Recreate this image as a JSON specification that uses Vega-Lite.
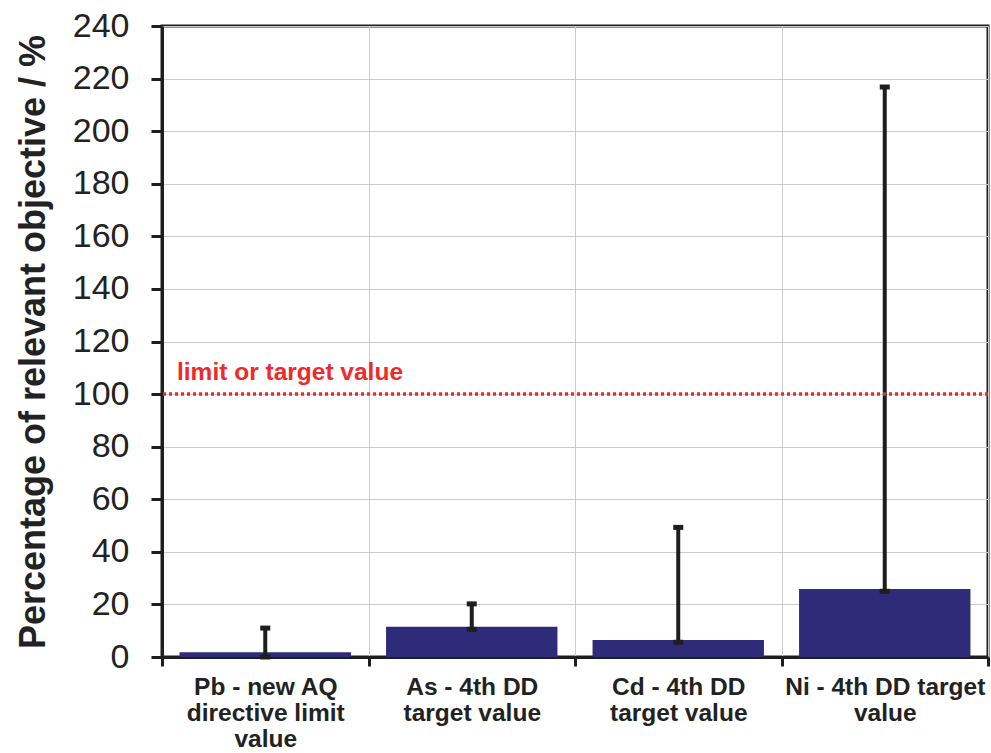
{
  "$schema": "https://vega.github.io/schema/vega-lite/v6.json",
  "width": 826,
  "height": 631,
  "autosize": {"type": "none"},
  "padding": {"left": 162, "top": 26, "right": 3, "bottom": 96},
  "background": "white",
  "config": {
    "font": "Liberation Sans",
    "view": {"stroke": "#1e1e1e", "strokeWidth": 3}
  },
  "data": {
    "values": [
      {"metal": "Pb - new AQ directive limit value", "value": 1.8, "low": 0, "high": 11},
      {"metal": "As - 4th DD target value", "value": 11.5, "low": 10.5, "high": 20.2},
      {"metal": "Cd - 4th DD target value", "value": 6.5, "low": 5.6, "high": 49.3},
      {"metal": "Ni - 4th DD target value", "value": 25.9, "low": 25, "high": 216.8}
    ]
  },
  "encoding": {
    "x": {
      "field": "metal",
      "type": "nominal",
      "sort": null,
      "scale": {"paddingInner": 0, "paddingOuter": 0},
      "axis": {
        "title": null,
        "labelAngle": 0,
        "tickBand": "extent",
        "grid": true,
        "gridColor": "#cccccc",
        "gridWidth": 1,
        "domainColor": "#1e1e1e",
        "domainWidth": 3,
        "tickColor": "#1e1e1e",
        "tickWidth": 3,
        "tickSize": 9,
        "labelFont": "Liberation Sans",
        "labelFontSize": 24.5,
        "labelFontWeight": "bold",
        "labelColor": "#222222",
        "labelPadding": 9,
        "labelLimit": 0,
        "labelLineHeight": 26,
        "labelBaseline": "top",
        "labelExpr": "datum.label == 'Pb - new AQ directive limit value' ? ['Pb - new AQ', 'directive limit', 'value'] : datum.label == 'Ni - 4th DD target value' ? ['Ni - 4th DD target', 'value'] : datum.label == 'As - 4th DD target value' ? ['As - 4th DD', 'target value'] : datum.label == 'Cd - 4th DD target value' ? ['Cd - 4th DD', 'target value'] : ''"
      }
    }
  },
  "layer": [
    {
      "mark": {"type": "bar", "color": "#2E2B78", "width": {"band": 0.83}},
      "encoding": {
        "y": {
          "field": "value",
          "type": "quantitative",
          "scale": {"domain": [0, 240], "nice": false},
          "axis": {
            "title": "Percentage of relevant objective / %",
            "titleFont": "Liberation Sans",
            "titleFontSize": 36,
            "titleFontWeight": "bold",
            "titleColor": "#222222",
            "titlePadding": 20,
            "values": [0, 20, 40, 60, 80, 100, 120, 140, 160, 180, 200, 220, 240],
            "grid": true,
            "gridColor": "#cccccc",
            "gridWidth": 1,
            "domainColor": "#1e1e1e",
            "domainWidth": 3,
            "tickColor": "#1e1e1e",
            "tickWidth": 3,
            "tickSize": 11,
            "labelFont": "Liberation Sans",
            "labelFontSize": 34,
            "labelColor": "#222222",
            "labelPadding": 22
          }
        }
      }
    },
    {
      "mark": {"type": "rule", "color": "#1e1e1e", "strokeWidth": 4},
      "encoding": {
        "y": {"field": "low", "type": "quantitative"},
        "y2": {"field": "high"}
      }
    },
    {
      "mark": {"type": "tick", "color": "#1e1e1e", "opacity": 1, "size": 10, "thickness": 5},
      "encoding": {"y": {"field": "low", "type": "quantitative"}}
    },
    {
      "mark": {"type": "tick", "color": "#1e1e1e", "opacity": 1, "size": 10, "thickness": 5},
      "encoding": {"y": {"field": "high", "type": "quantitative"}}
    },
    {
      "data": {"values": [{"label": "limit or target value", "limit": 100}]},
      "mark": {"type": "rule", "color": "#F02828", "strokeWidth": 3.5, "strokeDash": [3, 3]},
      "encoding": {
        "x": null,
        "y": {"field": "limit", "type": "quantitative"}
      }
    },
    {
      "data": {"values": [{"label": "limit or target value", "limit": 100}]},
      "mark": {"type": "text", "color": "#EE2A2A", "fontSize": 24.5, "fontWeight": "bold", "align": "left", "baseline": "alphabetic", "dy": -14, "dx": 15},
      "encoding": {
        "x": {"datum": "Pb - new AQ directive limit value", "bandPosition": 0},
        "y": {"field": "limit", "type": "quantitative"},
        "text": {"field": "label"}
      }
    }
  ]
}
